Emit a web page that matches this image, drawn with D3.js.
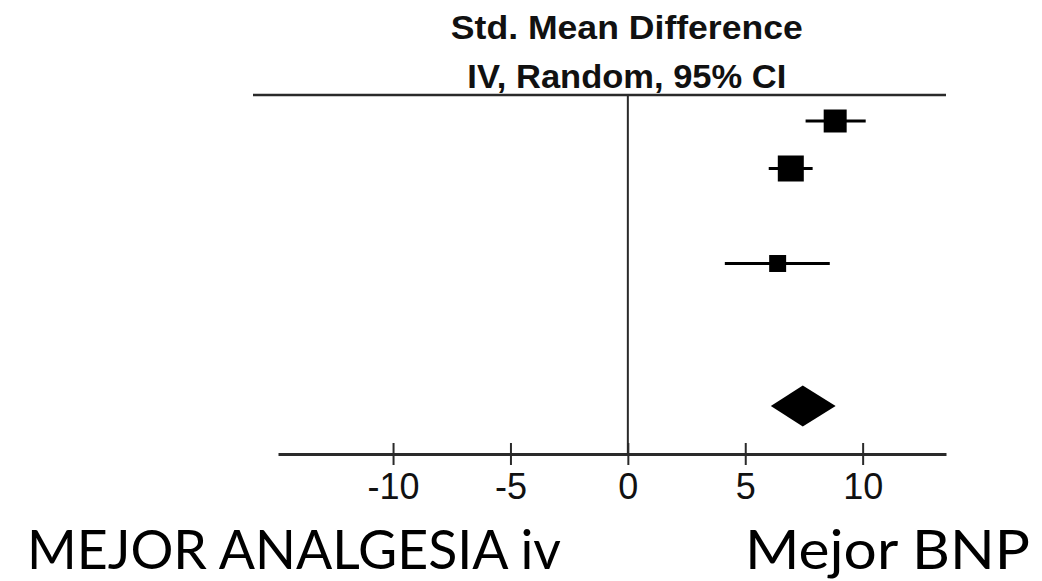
<!DOCTYPE html>
<html>
<head>
<meta charset="utf-8">
<script src="https://cdn.jsdelivr.net/npm/d3@7"></script>
<style>
  html, body { margin: 0; padding: 0; background: #ffffff; }
  svg { display: block; }
</style>
</head>
<body>
<svg id="chart" width="1042" height="581"></svg>
<script>
// Forest plot: standardised mean difference, random-effects model.
const studyRows   = [0, 1, 3];              // row slot of each study
const smd         = [8.83, 6.94, 6.38];     // point estimates
const ciLow       = [7.57, 6.00, 4.13];     // lower 95% CI
const ciHigh      = [10.13, 7.87, 8.60];    // upper 95% CI
const weights     = [35.4, 45.3, 19.3];     // study weight (%)

const pooledRow   = 6;
const pooledSmd   = 7.45;
const pooledLow   = 6.09;
const pooledHigh  = 8.85;

const tickValues  = [-10, -5, 0, 5, 10];
const axisDomain  = [-14.9, 13.55];

const titleLines  = ["Std. Mean Difference", "IV, Random, 95% CI"];
const sideLabels  = ["MEJOR ANALGESIA iv", "Mejor BNP"];

const svg = d3.select("#chart");

const x = d3.scaleLinear().domain(axisDomain).range([278, 946]);
const y = d3.scaleLinear().domain([0, 6]).range([121, 406]);
const size = d3.scaleSqrt().domain([0, d3.max(weights)]).range([0, 26]);

const ruleY = 95;
const axisY = 454;
const lineColor = "#2a2a2a";

// Column heading
svg.selectAll("text.title")
  .data(titleLines)
  .join("text")
  .attr("class", "title")
  .attr("x", x(0) - 1)
  .attr("y", (d, i) => i === 0 ? 39 : 88)
  .attr("text-anchor", "middle")
  .attr("font-family", "'Liberation Sans', Arial, sans-serif")
  .attr("font-weight", "bold")
  .attr("font-size", 33)
  .attr("textLength", (d, i) => i === 0 ? 352 : 319)
  .attr("lengthAdjust", "spacingAndGlyphs")
  .attr("fill", "#111")
  .text(d => d);

// Rule under the heading
svg.append("line")
  .attr("x1", 253).attr("x2", 946)
  .attr("y1", ruleY).attr("y2", ruleY)
  .attr("stroke", lineColor).attr("stroke-width", 2.5);

// Line of no effect
svg.append("line")
  .attr("x1", x(0)).attr("x2", x(0))
  .attr("y1", ruleY).attr("y2", axisY)
  .attr("stroke", lineColor).attr("stroke-width", 2);

// Bottom axis
const axis = d3.axisBottom(x)
  .tickValues(tickValues)
  .tickFormat(d => String(d))
  .tickSizeOuter(0);

const gAxis = svg.append("g")
  .attr("transform", `translate(0,${axisY})`)
  .call(axis);

gAxis.select(".domain")
  .attr("stroke", lineColor)
  .attr("stroke-width", 3);

gAxis.selectAll(".tick line")
  .attr("y1", -11).attr("y2", 11)
  .attr("stroke", lineColor)
  .attr("stroke-width", 2);

gAxis.selectAll(".tick text")
  .attr("y", 45).attr("dy", 0)
  .attr("font-family", "'Liberation Sans', Arial, sans-serif")
  .attr("font-size", 36)
  .attr("fill", "#111");

// Study confidence intervals and weighted squares
const studies = smd.map((v, i) => ({
  row: studyRows[i], est: v, lo: ciLow[i], hi: ciHigh[i], w: weights[i]
}));

svg.selectAll("line.ci")
  .data(studies)
  .join("line")
  .attr("class", "ci")
  .attr("x1", d => x(d.lo)).attr("x2", d => x(d.hi))
  .attr("y1", d => y(d.row)).attr("y2", d => y(d.row))
  .attr("stroke", "#000").attr("stroke-width", 3);

svg.selectAll("rect.box")
  .data(studies)
  .join("rect")
  .attr("class", "box")
  .attr("x", d => x(d.est) - size(d.w) / 2)
  .attr("y", d => y(d.row) - size(d.w) / 2)
  .attr("width", d => size(d.w))
  .attr("height", d => size(d.w))
  .attr("fill", "#000");

// Pooled estimate diamond
const dy = y(pooledRow);
svg.append("path")
  .attr("d", `M${x(pooledLow)},${dy} L${x(pooledSmd)},${dy - 20.5} L${x(pooledHigh)},${dy} L${x(pooledSmd)},${dy + 20.5} Z`)
  .attr("fill", "#000");

// Direction labels
svg.selectAll("text.side")
  .data(sideLabels)
  .join("text")
  .attr("class", "side")
  .attr("x", (d, i) => i === 0 ? 27 : 745)
  .attr("y", 569)
  .attr("font-family", "Lato, 'Open Sans', Carlito, Calibri, sans-serif")
  .attr("font-size", 54)
  .attr("textLength", (d, i) => i === 0 ? 534 : 285)
  .attr("lengthAdjust", "spacingAndGlyphs")
  .attr("fill", "#000")
  .text(d => d);
</script>
</body>
</html>
